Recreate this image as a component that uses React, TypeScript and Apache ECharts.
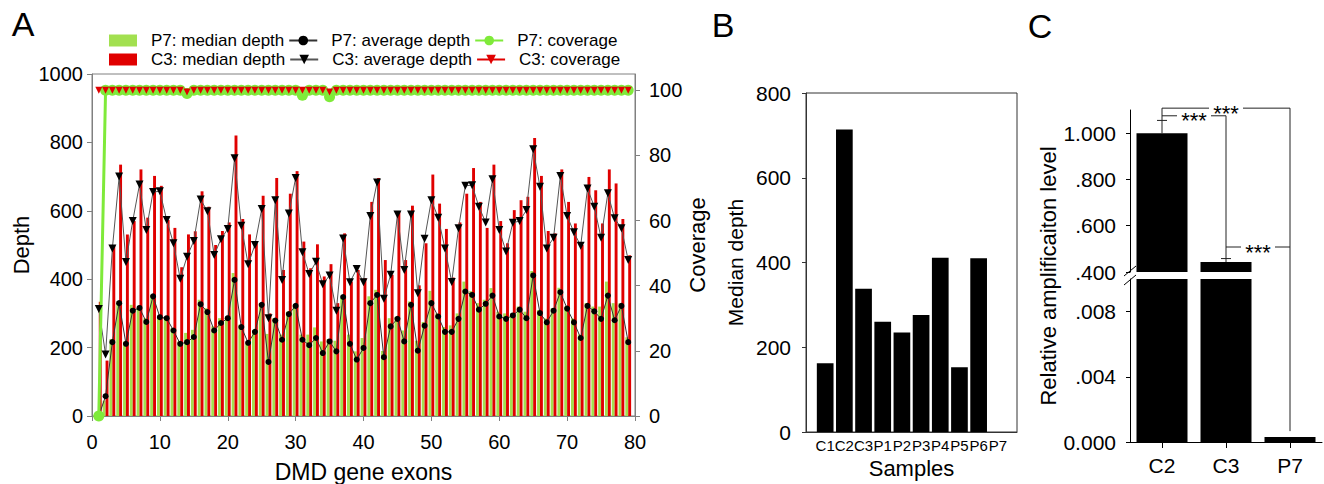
import React, { useEffect, useRef } from 'react';
import * as echarts from 'echarts';

// ---------- Panel A: per-exon depth / coverage (exons 1..79) ----------
const c3MedianDepth = [
  334, 162, 500, 735, 531, 570, 721, 580, 702, 673,
  573, 550, 435, 531, 540, 657, 612, 500, 541, 566,
  820, 576, 531, 505, 644, 300, 696, 427, 650, 716,
  510, 432, 502, 408, 444, 330, 534, 393, 427, 403,
  626, 696, 456, 413, 597, 456, 615, 382, 505, 706,
  621, 547, 405, 566, 650, 725, 626, 550, 735, 570,
  505, 602, 631, 641, 813, 702, 541, 534, 721, 626,
  563, 500, 699, 660, 563, 721, 680, 576, 470,
];
const c3AverageDepth = [
  313, 180, 490, 700, 450, 570, 677, 544, 655, 657,
  573, 505, 401, 466, 512, 633, 599, 471, 517, 547,
  754, 556, 444, 500, 605, 286, 631, 398, 592, 696,
  479, 415, 451, 385, 411, 308, 519, 391, 430, 391,
  585, 683, 343, 413, 589, 427, 589, 359, 518, 631,
  580, 490, 392, 549, 673, 675, 612, 566, 692, 544,
  481, 565, 570, 602, 780, 670, 490, 521, 702, 585,
  537, 498, 665, 612, 521, 651, 578, 549, 456,
];
const p7MedianDepth = [
  0, 45, 225, 335, 218, 325, 315, 286, 354, 291,
  290, 257, 218, 243, 252, 340, 315, 262, 286, 290,
  418, 267, 214, 250, 330, 240, 286, 238, 305, 325,
  238, 238, 259, 218, 225, 220, 345, 238, 189, 228,
  350, 369, 190, 286, 290, 250, 335, 220, 275, 366,
  300, 260, 265, 300, 393, 365, 330, 340, 374, 305,
  300, 300, 320, 305, 424, 310, 285, 315, 375, 320,
  285, 238, 330, 320, 320, 393, 330, 330, 230,
];
const p7AverageDepth = [
  0, 58, 216, 330, 211, 308, 316, 275, 350, 289,
  286, 250, 211, 216, 231, 327, 304, 250, 272, 286,
  398, 260, 214, 246, 325, 158, 279, 223, 298, 322,
  223, 207, 228, 184, 218, 189, 348, 211, 165, 199,
  330, 354, 172, 262, 284, 218, 325, 191, 264, 330,
  291, 246, 246, 284, 364, 354, 311, 328, 352, 291,
  284, 294, 311, 286, 411, 301, 274, 308, 362, 314,
  274, 228, 322, 306, 284, 352, 280, 322, 216,
];
const p7Coverage = [
  0, 100, 100, 100, 100, 100, 100, 100, 100, 100,
  100, 100, 100, 99, 100, 100, 100, 100, 100, 100,
  100, 100, 100, 100, 100, 100, 100, 100, 100, 100,
  98.5, 100, 100, 100, 98, 100, 100, 100, 100, 100,
  100, 100, 100, 100, 100, 100, 100, 100, 100, 100,
  100, 100, 100, 100, 100, 100, 100, 100, 100, 100,
  100, 100, 100, 100, 100, 100, 100, 100, 100, 100,
  100, 100, 100, 100, 100, 100, 100, 100, 100,
];
const c3Coverage = [
  100, 100, 100, 100, 100, 100, 100, 100, 100, 100,
  100, 100, 100, 99.5, 100, 100, 100, 100, 100, 100,
  100, 100, 100, 100, 100, 100, 100, 100, 100, 100,
  100, 100, 100, 100, 99.5, 100, 100, 100, 100, 100,
  100, 100, 100, 100, 100, 100, 100, 100, 100, 100,
  100, 100, 100, 100, 100, 100, 100, 100, 100, 100,
  100, 100, 100, 100, 100, 100, 100, 100, 100, 100,
  100, 100, 100, 100, 100, 100, 100, 100, 100,
];
const coverageTicks = [0, 20, 40, 60, 80, 100];

// ---------- Panel B ----------
const samplesB = ['C1', 'C2', 'C3', 'P1', 'P2', 'P3', 'P4', 'P5', 'P6', 'P7'];
const medianDepthB = [162, 714, 338, 260, 235, 276, 411, 153, 410, null];

// ---------- Panel C ----------
const groupsC = ['C2', 'C3', 'P7'];
const relLevel = [1.0, 0.443, 0.0003];
const relError = [0.055, 0.015, 0];
const upperTicksC = [0.4, 0.6, 0.8, 1.0];
const lowerTicksC = [0, 0.004, 0.008];
const sigBrackets = [
  { from: 0, to: 2, level: 1.108, label: '***' },
  { from: 0, to: 1, level: 1.075, label: '***' },
  { from: 1, to: 2, level: 0.508, label: '***' },
];

const FONT = "'Liberation Sans', Arial, Helvetica, sans-serif";
const GREY = '#808080';
const RED = '#e00000';
const GREEN_BAR = '#a2e050';
const GREEN = '#7fea3a';
const UPPER_MIN = 0.4;

const fmtC = (v: number) => {
  if (v === 0) return '0.000';
  const s = v.toFixed(3);
  return v < 1 ? s.replace(/^0/, '') : s;
};
const plain = (v: number) => String(v);

export default function App() {
  const ref = useRef<HTMLDivElement>(null);
  useEffect(() => {
    document.body.style.margin = '0';
    const chart = echarts.init(ref.current!, null, { renderer: 'svg' });
    const exonPairs = (arr: number[]) => arr.map((v, i) => [i + 1, v]);
    const legendBase: any = {
      orient: 'horizontal',
      left: 104,
      itemWidth: 28,
      itemHeight: 12,
      itemGap: 4,
      selectedMode: false,
      textStyle: { fontSize: 17, color: '#000', fontFamily: FONT, padding: [0, 0, 0, 9] },
    };
    const cAxisLine = { show: true, onZero: false, lineStyle: { color: '#000', width: 1 } };
    const option: any = {
      animation: false,
      backgroundColor: '#fff',
      textStyle: { fontFamily: FONT, color: '#000' },
      legend: [
        { ...legendBase, top: 27, data: [{ name: 'P7: median depth', icon: 'rect' }, 'P7: average depth', 'P7: coverage'] },
        { ...legendBase, top: 46, data: [{ name: 'C3: median depth', icon: 'rect' }, 'C3: average depth', 'C3: coverage'] },
      ],
      grid: [
        { left: 92, right: 689, top: 74, bottom: 68, show: true, borderColor: GREY, borderWidth: 1, backgroundColor: 'transparent', outerBoundsMode: 'none' },
        { left: 806, right: 307, top: 93, bottom: 52, show: true, borderColor: '#333', borderWidth: 1, backgroundColor: 'transparent', outerBoundsMode: 'none' },
        { left: 1130, right: 2, top: 110, bottom: 212, outerBoundsMode: 'none' },
        { left: 1130, right: 2, top: 279, bottom: 42, outerBoundsMode: 'none' },
      ],
      xAxis: [
        {
          gridIndex: 0, type: 'value', min: 0, max: 80, interval: 10,
          axisLine: { show: true, onZero: false, lineStyle: { color: GREY } },
          axisTick: { show: true, length: 5, lineStyle: { color: GREY } },
          axisLabel: { fontSize: 20, color: '#000', margin: 16 },
          splitLine: { show: false },
          name: 'DMD gene exons', nameLocation: 'middle', nameGap: 44,
          nameTextStyle: { fontSize: 23, color: '#000' },
        },
        {
          gridIndex: 1, type: 'value', min: -1, max: 10, interval: 1,
          axisLine: { show: true, onZero: false, lineStyle: { color: '#333' } },
          axisTick: { show: false },
          axisLabel: {
            fontSize: 15, color: '#000', margin: 6,
            formatter: (v: number) => samplesB[Math.round(v)] || '',
          },
          splitLine: { show: false },
          name: 'Samples', nameLocation: 'middle', nameGap: 20,
          nameTextStyle: { fontSize: 22, color: '#000' },
        },
        { gridIndex: 2, type: 'category', data: groupsC, show: false },
        {
          gridIndex: 3, type: 'category', data: groupsC,
          axisLine: { show: true, onZero: false, lineStyle: { color: '#000' } },
          axisTick: { show: true, alignWithLabel: true, length: 6, lineStyle: { color: '#000' } },
          axisLabel: { fontSize: 21, color: '#000', margin: 13 },
        },
      ],
      yAxis: [
        {
          gridIndex: 0, type: 'value', min: 0, max: 1000, interval: 200,
          axisLine: { show: true, onZero: false, lineStyle: { color: GREY } },
          axisTick: { show: true, length: 5, lineStyle: { color: GREY } },
          axisLabel: { fontSize: 20, color: '#000', margin: 9, formatter: plain },
          splitLine: { show: false },
          name: 'Depth', nameLocation: 'middle', nameGap: 60, nameRotate: 90,
          nameTextStyle: { fontSize: 22, color: '#000' },
        },
        {
          gridIndex: 0, type: 'value', position: 'right', min: 0, max: 105,
          axisLine: { show: true, onZero: false, lineStyle: { color: GREY } },
          axisTick: { show: true, length: 5, customValues: coverageTicks, lineStyle: { color: GREY } },
          axisLabel: { fontSize: 20, color: '#000', margin: 14, customValues: coverageTicks, formatter: plain },
          splitLine: { show: false },
          name: 'Coverage', nameLocation: 'middle', nameGap: 46, nameRotate: 90,
          nameTextStyle: { fontSize: 22, color: '#000' },
        },
        {
          gridIndex: 1, type: 'value', min: 0, max: 800, interval: 200,
          axisLine: { show: true, onZero: false, lineStyle: { color: '#333' } },
          axisTick: { show: true, length: 4, lineStyle: { color: '#333' } },
          axisLabel: { fontSize: 21, color: '#000', margin: 15, formatter: plain },
          splitLine: { show: false },
          name: 'Median depth', nameLocation: 'middle', nameGap: 60, nameRotate: 90,
          nameTextStyle: { fontSize: 21, color: '#000' },
        },
        {
          gridIndex: 2, type: 'value', position: 'left', min: UPPER_MIN, max: 1.1,
          axisLine: cAxisLine,
          axisTick: { show: true, length: 4, customValues: upperTicksC, lineStyle: { color: '#000' } },
          axisLabel: { fontSize: 21, color: '#000', margin: 14, customValues: upperTicksC, formatter: fmtC },
          splitLine: { show: false },
        },
        {
          gridIndex: 3, type: 'value', position: 'left', min: 0, max: 0.01,
          axisLine: cAxisLine,
          axisTick: { show: true, length: 4, customValues: lowerTicksC, lineStyle: { color: '#000' } },
          axisLabel: { fontSize: 21, color: '#000', margin: 14, customValues: lowerTicksC, formatter: fmtC },
          splitLine: { show: false },
        },
      ],
      series: [
        {
          name: 'P7: median depth', type: 'bar', xAxisIndex: 0, yAxisIndex: 0,
          data: exonPairs(p7MedianDepth), barWidth: 2.9, barGap: '0%',
          itemStyle: { color: GREEN_BAR },
        },
        {
          name: 'C3: median depth', type: 'bar', xAxisIndex: 0, yAxisIndex: 0,
          data: exonPairs(c3MedianDepth), barWidth: 2.9, barGap: '0%',
          itemStyle: { color: RED },
        },
        {
          name: 'P7: average depth', type: 'line', xAxisIndex: 0, yAxisIndex: 0,
          data: exonPairs(p7AverageDepth), symbol: 'circle', symbolSize: 6, showAllSymbol: true,
          itemStyle: { color: '#000' }, lineStyle: { color: '#333', width: 1 },
        },
        {
          name: 'C3: average depth', type: 'line', xAxisIndex: 0, yAxisIndex: 0,
          data: exonPairs(c3AverageDepth), symbol: 'triangle', symbolRotate: 180, symbolSize: 8, showAllSymbol: true,
          itemStyle: { color: '#000' }, lineStyle: { color: '#555', width: 1 },
        },
        {
          name: 'P7: coverage', type: 'line', xAxisIndex: 0, yAxisIndex: 1,
          data: exonPairs(p7Coverage), symbol: 'circle', symbolSize: 11, showAllSymbol: true,
          itemStyle: { color: GREEN }, lineStyle: { color: GREEN, width: 3 },
        },
        {
          name: 'C3: coverage', type: 'line', xAxisIndex: 0, yAxisIndex: 1,
          data: exonPairs(c3Coverage), symbol: 'triangle', symbolRotate: 180, symbolSize: 7, showAllSymbol: true,
          itemStyle: { color: RED }, lineStyle: { color: RED, width: 1 },
        },
        {
          name: 'Median depth by sample', type: 'bar', xAxisIndex: 1, yAxisIndex: 2,
          data: samplesB.map((s, i) => [i, medianDepthB[i]]), barWidth: 16.7,
          itemStyle: { color: '#000' },
        },
        {
          name: 'Relative level (upper)', type: 'bar', xAxisIndex: 2, yAxisIndex: 3,
          data: relLevel, barWidth: 51, itemStyle: { color: '#000' }, clip: true,
        },
        {
          name: 'Relative level (lower)', type: 'bar', xAxisIndex: 3, yAxisIndex: 4,
          data: relLevel, barWidth: 51, itemStyle: { color: '#000' }, clip: true,
        },
      ],
    };
    chart.setOption(option);

    // ---- annotations computed through the axes ----
    const up = (c: number, v: number) => chart.convertToPixel({ gridIndex: 2 } as any, [c, v]) as number[];
    const low = (c: number, v: number) => chart.convertToPixel({ gridIndex: 3 } as any, [c, v]) as number[];
    const yOf = (c: number, v: number) => (v >= UPPER_MIN ? up(c, v)[1] : low(c, v)[1]);
    const xOf = (c: number) => up(c, UPPER_MIN)[0];
    const g: any[] = [];
    const L = (x1: number, y1: number, x2: number, y2: number, color = '#222') =>
      g.push({ type: 'line', silent: true, shape: { x1, y1, x2, y2 }, style: { stroke: color, lineWidth: 1 } });
    const T = (x: number, y: number, text: string, size: number, extra: any = {}) =>
      g.push({
        type: 'text', silent: true, x, y, ...extra,
        style: { text, font: `${size}px ${FONT}`, fill: '#000', align: 'center', verticalAlign: 'middle', textAlign: 'center', textVerticalAlign: 'middle' },
      });

    // error bars
    relLevel.forEach((v, i) => {
      if (relError[i] > 0) {
        const x = xOf(i);
        const y0 = yOf(i, v);
        const y1 = yOf(i, v + relError[i]);
        L(x, y0, x, y1);
        L(x - 5, y1, x + 5, y1);
      }
    });
    // drop lines of the significance brackets
    groupsC.forEach((_, i) => {
      const levels = sigBrackets.filter((b) => b.from === i || b.to === i).map((b) => b.level);
      if (!levels.length) return;
      const top = Math.max(...levels);
      const x = xOf(i);
      const bottomY = yOf(i, relLevel[i] + relError[i]) - (relError[i] > 0 ? 0 : 6);
      L(x, yOf(i, top), x, bottomY);
    });
    // bracket bars and stars
    sigBrackets.forEach((b) => {
      const xa = xOf(b.from);
      const xb = xOf(b.to);
      const y = yOf(0, b.level);
      const xm = (xa + xb) / 2;
      const half = 17;
      L(xa, y, xm - half, y);
      L(xm + half, y, xb, y);
      T(xm, y + 5, b.label, 22);
    });
    // axis break marks
    const c0 = up(0, UPPER_MIN)[0];
    const c1 = up(1, UPPER_MIN)[0];
    const axisX = c0 - (c1 - c0) / 2;
    const yBreakTop = up(0, UPPER_MIN)[1];
    const yBreakBottom = low(0, 0.01)[1];
    L(axisX - 6, yBreakTop + 4, axisX + 6, yBreakTop - 6, '#000');
    L(axisX - 6, yBreakBottom + 6, axisX + 6, yBreakBottom - 4, '#000');
    // y-axis title of panel C, centred on both segments
    const yTop = up(0, 1.1)[1];
    const yBottom = low(0, 0)[1];
    T(axisX - 82, (yTop + yBottom) / 2, 'Relative amplificaiton level', 22, { rotation: Math.PI / 2 });
    // panel letters
    T(23, 24, 'A', 34);
    T(723, 25, 'B', 34);
    T(1040, 26, 'C', 34);

    chart.setOption({ graphic: g });
    return () => chart.dispose();
  }, []);
  return (
    <div
      ref={ref}
      style={{ position: 'fixed', left: 0, top: 0, width: 1324, height: 484, background: '#fff' }}
    />
  );
}
